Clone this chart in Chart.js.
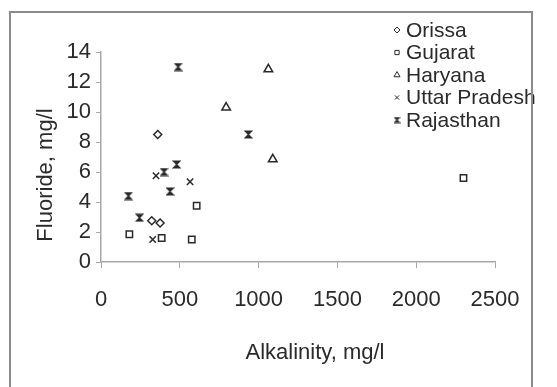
<!DOCTYPE html>
<html>
<head>
<meta charset="utf-8">
<script src="https://cdn.jsdelivr.net/npm/chart.js@4.4.1/dist/chart.umd.min.js"></script>
<style>
  html, body { margin: 0; padding: 0; background: #fff; overflow: hidden; }
  #wrap { position: relative; width: 557px; height: 387px; }
  #wrap canvas { position: absolute; left: 0; top: 0; }
  #frame { position: absolute; left: 9px; top: 11px; width: 520px; height: 400px; border: 2px solid #8c8c8c; pointer-events: none; }
</style>
</head>
<body>
<div id="wrap">
  <canvas id="chart" width="557" height="387"></canvas>
  <div id="frame"></div>
</div>
<script>
// data: alkalinity (mg/l) vs fluoride (mg/l)
const states = ["Orissa", "Gujarat", "Haryana", "Uttar Pradesh", "Rajasthan"];

const orissaAlk = [360, 322, 375];
const orissaF   = [8.5, 2.75, 2.6];

const gujaratAlk = [607, 180, 385, 576, 2300];
const gujaratF   = [3.75, 1.85, 1.6, 1.5, 5.6];

const haryanaAlk = [1062, 794, 1090];
const haryanaF   = [12.85, 10.3, 6.85];

const upAlk = [349, 565, 328];
const upF   = [5.75, 5.35, 1.5];

const rajAlk = [489, 935, 480, 400, 438, 174, 244];
const rajF   = [13.0, 8.5, 6.5, 6.0, 4.7, 4.4, 2.95];

const xTicks = [0, 500, 1000, 1500, 2000, 2500];
const yTicks = [0, 2, 4, 6, 8, 10, 12, 14];

const xTitle = "Alkalinity, mg/l";
const yTitle = "Fluoride, mg/l";

const FONT = "'Liberation Sans', Arial, sans-serif";
const INK = "#2a2a2a";

// hourglass marker (Excel style) for Rajasthan
function hourglass(size) {
  const c = document.createElement("canvas");
  c.width = size; c.height = size;
  const g = c.getContext("2d");
  g.fillStyle = INK;
  g.strokeStyle = INK;
  g.lineWidth = 1.2;
  g.beginPath();
  g.moveTo(1, 1); g.lineTo(size - 1, 1); g.lineTo(1, size - 1); g.lineTo(size - 1, size - 1);
  g.closePath();
  g.fill(); g.stroke();
  return c;
}

function pts(xs, ys) {
  return xs.map((x, i) => ({ x, y: ys[i] }));
}

const styles = [
  { pointStyle: "rectRot", radius: 4, bg: "#fff" },
  { pointStyle: "rect", radius: 4.5, bg: "#fff" },
  { pointStyle: "triangle", radius: 5, bg: "#fff" },
  { pointStyle: "crossRot", radius: 4.5, bg: INK },
  { pointStyle: hourglass(9), radius: 4.5, bg: INK }
];
const legendStyles = [
  { pointStyle: "rectRot", radius: 3 },
  { pointStyle: "rect", radius: 3 },
  { pointStyle: "triangle", radius: 3.5 },
  { pointStyle: "crossRot", radius: 3 },
  { pointStyle: hourglass(7), radius: 3.5 }
];

const series = [
  pts(orissaAlk, orissaF),
  pts(gujaratAlk, gujaratF),
  pts(haryanaAlk, haryanaF),
  pts(upAlk, upF),
  pts(rajAlk, rajF)
];

const datasets = states.map((name, i) => ({
  label: name,
  data: series[i],
  pointStyle: styles[i].pointStyle,
  pointRadius: styles[i].radius,
  pointBorderWidth: 1.5,
  pointBorderColor: INK,
  pointBackgroundColor: styles[i].bg,
  showLine: false
}));

// axis titles + legend drawn where the original has them
const extras = {
  id: "extras",
  afterDraw(chart) {
    const ctx = chart.ctx;
    ctx.save();
    ctx.fillStyle = INK;
    ctx.font = "22px " + FONT;
    ctx.textAlign = "center";
    ctx.textBaseline = "middle";
    ctx.fillText(xTitle, 315, 353);
    ctx.translate(46, 175);
    ctx.rotate(-Math.PI / 2);
    ctx.fillText(yTitle, 0, 0);
    ctx.restore();

    ctx.save();
    ctx.font = "21px " + FONT;
    ctx.textAlign = "left";
    ctx.textBaseline = "middle";
    states.forEach((name, i) => {
      const y = 30 + i * 22.5;
      ctx.strokeStyle = INK;
      ctx.fillStyle = i >= 3 ? INK : "#fff";
      Chart.helpers.drawPoint(ctx, {
        pointStyle: legendStyles[i].pointStyle,
        radius: legendStyles[i].radius,
        borderWidth: 1.2,
        rotation: 0
      }, 397, y);
      ctx.fillStyle = INK;
      ctx.fillText(name, 406, y + 1);
    });
    ctx.restore();
  }
};

new Chart(document.getElementById("chart"), {
  type: "scatter",
  data: { datasets },
  plugins: [extras],
  options: {
    responsive: false,
    animation: false,
    layout: { padding: { top: 52, right: 62, left: 0, bottom: 0 } },
    plugins: { legend: { display: false }, tooltip: { enabled: false } },
    scales: {
      x: {
        type: "linear",
        min: 0, max: 2500,
        afterBuildTicks: s => { s.ticks = xTicks.map(v => ({ value: v })); },
        afterFit: s => { s.height = 387 - 262; },
        grid: { drawOnChartArea: false, drawTicks: true, tickLength: 6, color: "#a8a8a8" },
        border: { display: true, color: "#a8a8a8", width: 1.5 },
        ticks: { padding: 19, color: INK, font: { family: FONT, size: 22 }, maxRotation: 0, callback: v => String(v) }
      },
      y: {
        type: "linear",
        min: 0, max: 14,
        afterBuildTicks: s => { s.ticks = yTicks.map(v => ({ value: v })); },
        afterFit: s => { s.width = 101; },
        grid: { drawOnChartArea: false, drawTicks: true, tickLength: 5, color: "#a8a8a8" },
        border: { display: true, color: "#a8a8a8", width: 1.5 },
        ticks: { padding: 5, color: INK, font: { family: FONT, size: 22 }, callback: v => String(v) }
      }
    }
  }
});
</script>
</body>
</html>
